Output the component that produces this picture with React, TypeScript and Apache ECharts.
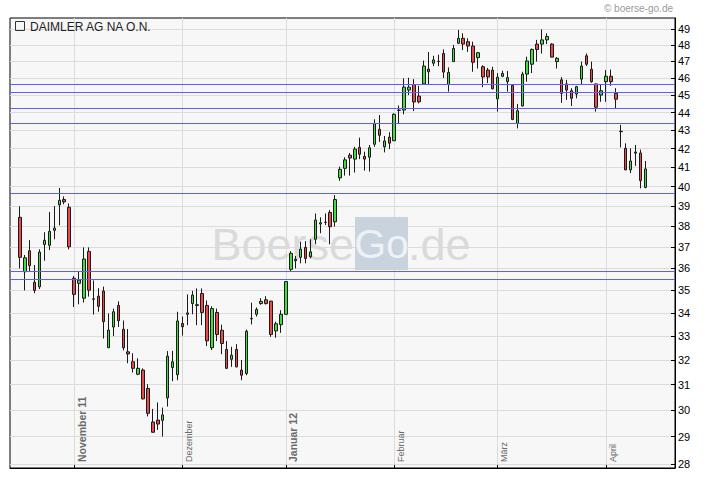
import React, { useEffect, useRef } from 'react';
import * as echarts from 'echarts';

// ---- data ----
const firstCategoryDate = '2011-10-13';
const firstCandleDate = '2011-10-17';
const categoryCount = 136;
const exchangeHolidays = ['2011-12-26', '2012-04-06', '2012-04-09'];

const open = [
  38.45, 35.85, 36.83, 35.37, 35.16, 37.13, 37.09, 37.81, 39.07, 39.34, 38.95,
  35.55, 35.32, 34.65, 36.8, 34.62, 34.74, 34.97, 32.51, 33.39, 34.33, 33.29, 32.34, 31.93, 31.42, 31.59, 30.85, 29.55, 29.62, 29.61, 30.48, 31.69, 31.4,
  33.54, 33.94, 34.41, 34.33, 34.86, 34.33, 32.51, 34.02, 33.25, 32.44, 32.03, 32.44, 31.59, 31.45, 33.74, 33.94, 34.41, 34.58, 34.52, 33.22, 33.49,
  33.94, 35.96, 36.36, 36.52, 36.99, 36.55, 37.38, 38.12, 38.2, 38.69, 38.23, 40.45, 40.95, 41.65, 41.44, 42.07, 41.59, 41.54, 42.24, 43.06, 42.1, 42.63,
  42.43, 44.12, 44.14, 45.29, 45.61, 44.94, 45.65, 46.53, 46.88, 46.98, 47.47, 45.61, 46.98, 48.1, 48.41, 48.2, 47.93, 47.22, 46.67, 46.47, 46.47,
  44.78, 46.1, 45.78, 45.56, 43.38, 44.37, 46.23, 46.82, 48.05, 48.05, 48.31, 48.05, 46.98, 45.89, 45.65, 45.25, 45.06, 45.93, 47.33, 46.52, 45.65, 45.0,
  45.78, 46.1, 45.1, 42.95, 42.02, 40.87, 41.82, 41.77, 39.96,
];
const high = [
  39.0, 36.63, 37.34, 36.16, 36.9, 37.72, 38.71, 39.01, 39.93, 39.5, 39.14,
  35.65, 35.87, 36.99, 36.99, 35.45, 35.1, 35.17, 33.98, 34.19, 34.51, 33.67, 33.3, 32.28, 32.07, 31.66, 31.02, 30.05, 30.3, 30.1, 32.37, 32.38, 34.05,
  33.84, 34.82, 34.98, 35.09, 35.09, 34.55, 34.29, 34.19, 33.49, 32.79, 32.55, 32.66, 32.0, 33.28, 34.45, 34.24, 34.65, 34.74, 34.53, 33.62, 34.12,
  35.42, 36.81, 36.58, 37.26, 37.29, 37.38, 38.64, 38.45, 38.64, 38.81, 39.56, 41.04, 41.54, 41.77, 42.1, 42.6, 41.84, 42.2, 43.62, 43.86, 42.69, 42.9,
  43.96, 44.4, 45.98, 46.01, 45.93, 45.54, 47.04, 47.56, 47.33, 47.4, 47.72, 46.63, 48.0, 48.93, 48.72, 48.41, 48.2, 47.57, 46.76, 46.6, 46.67,
  46.29, 46.43, 46.41, 45.61, 44.49, 46.37, 47.28, 47.78, 48.31, 48.97, 48.72, 48.1, 47.25, 46.05, 45.89, 45.4, 45.54, 46.98, 47.47, 46.98, 45.66, 45.61,
  46.47, 46.5, 45.4, 43.31, 42.29, 42.02, 42.2, 41.95, 41.34,
];
const low = [
  36.0, 35.0, 35.85, 34.87, 35.06, 36.36, 36.86, 37.38, 38.06, 39.1, 36.9,
  34.26, 34.38, 34.46, 34.72, 33.93, 34.05, 32.9, 32.5, 33.0, 33.39, 32.4, 31.87, 31.49, 31.38, 30.42, 29.76, 29.15, 29.25, 29.0, 30.14, 31.14, 31.18,
  33.02, 33.47, 33.94, 33.47, 33.47, 32.58, 32.41, 32.79, 32.24, 31.64, 31.72, 31.7, 31.18, 31.38, 33.5, 33.84, 34.36, 34.37, 32.97, 32.93, 33.14,
  33.93, 35.85, 36.0, 36.24, 36.24, 36.47, 37.14, 37.67, 38.07, 37.14, 37.99, 40.3, 40.57, 40.57, 40.73, 41.44, 40.83, 40.78, 42.1, 42.37, 41.8, 41.98,
  42.42, 43.35, 43.9, 45.0, 44.08, 44.52, 45.62, 45.61, 46.71, 46.7, 46.0, 45.2, 46.97, 48.05, 47.68, 47.57, 46.37, 46.56, 45.46, 45.7, 45.34,
  44.05, 46.05, 45.2, 43.57, 43.11, 44.35, 45.78, 46.29, 46.98, 47.47, 48.05, 47.24, 46.56, 44.55, 44.72, 44.37, 44.81, 45.61, 46.71, 45.72, 44.05, 44.61,
  44.61, 45.54, 44.24, 42.07, 40.86, 40.7, 41.08, 39.91, 39.91,
];
const close = [
  36.52, 36.5, 36.13, 35.0, 36.77, 37.33, 37.76, 37.92, 39.3, 39.22, 37.02,
  34.82, 35.47, 36.44, 35.01, 34.6, 34.29, 33.62, 33.26, 34.05, 33.66, 32.51, 32.25, 31.66, 31.66, 30.44, 29.88, 29.16, 29.47, 29.82, 32.16, 31.93, 33.65,
  33.4, 34.0, 34.79, 34.36, 34.02, 32.8, 34.19, 33.07, 32.69, 31.66, 32.2, 31.72, 31.38, 33.21, 33.76, 34.15, 34.51, 34.41, 33.07, 33.53, 33.94,
  35.4, 36.71, 36.43, 36.91, 36.47, 36.78, 38.32, 38.18, 38.21, 37.99, 39.34, 40.9, 41.4, 41.5, 41.98, 41.7, 41.44, 42.05, 43.37, 42.73, 42.42, 42.3,
  43.9, 44.14, 45.46, 45.46, 44.6, 44.61, 46.71, 46.37, 47.08, 47.0, 46.35, 46.33, 47.78, 48.41, 48.05, 47.93, 46.94, 47.52, 46.06, 46.06, 45.36,
  46.05, 46.27, 46.02, 43.61, 44.1, 46.23, 47.02, 47.72, 47.72, 48.31, 48.52, 47.25, 47.18, 45.1, 45.29, 44.81, 45.49, 46.71, 46.82, 45.78, 44.3, 45.25,
  46.1, 45.78, 44.76, 42.93, 40.87, 41.34, 41.76, 40.31, 40.92,
];

const yTicks = [28, 29, 30, 31, 32, 33, 34, 35, 36, 37, 38, 39, 40, 41, 42, 43, 44, 45, 46, 47, 48, 49];
const yMin = 27.85;
const yMax = 49.69;
const supportLines = [45.68, 45.33, 44.18, 43.28, 39.59, 35.82, 35.42];
const monthKeys = ['2011-11', '2011-12', '2012-01', '2012-02', '2012-03', '2012-04'];
const monthLabels = ['November 11', 'Dezember', 'Januar 12', 'Februar', 'März', 'April'];
const yearStart = [true, false, true, false, false, false];
const titleText = 'DAIMLER AG NA O.N.';
const copyrightText = '© boerse-go.de';

// ---- helpers ----
function buildTradingDays(start: string, count: number): string[] {
  const out: string[] = [];
  const d = new Date(start + 'T12:00:00Z');
  while (out.length < count) {
    const wd = d.getUTCDay();
    const s = d.toISOString().slice(0, 10);
    if (wd !== 0 && wd !== 6 && !exchangeHolidays.includes(s)) out.push(s);
    d.setUTCDate(d.getUTCDate() + 1);
  }
  return out;
}

const categories = buildTradingDays(firstCategoryDate, categoryCount);
const candleOffset = categories.indexOf(firstCandleDate);
const monthCats = monthKeys.map((k) => categories.findIndex((c) => c.startsWith(k)));
const monthCatSet = new Set(monthCats);

const FONT = 'Arial, "Liberation Sans", Helvetica, sans-serif';

export default function App() {
  const ref = useRef<HTMLDivElement>(null);

  useEffect(() => {
    if (!ref.current) return;
    const chart = echarts.init(ref.current, null, { renderer: 'svg' });

    const candleData = open.map((o, i) => [
      candleOffset + i,
      Math.log(o),
      Math.log(close[i]),
      Math.log(low[i]),
      Math.log(high[i]),
    ]);

    const logTicks = yTicks.map((t) => Math.log(t));

    const option: any = {
      animation: false,
      backgroundColor: '#ffffff',
      grid: {
        left: 10,
        right: 45,
        top: 18,
        bottom: 13,
        show: true,
        backgroundColor: '#f7f7f7',
        borderColor: '#000000',
        borderWidth: 1,
      },
      xAxis: {
        type: 'category',
        data: categories,
        boundaryGap: false,
        axisLine: { show: true, lineStyle: { color: '#000000', width: 1 } },
        axisTick: {
          show: true,
          inside: true,
          length: 3,
          interval: (idx: number) => monthCatSet.has(idx),
          lineStyle: { color: '#000000' },
        },
        axisLabel: { show: false },
        splitLine: {
          show: true,
          interval: (idx: number) => monthCatSet.has(idx),
          lineStyle: { color: '#dcdcdc', width: 1 },
        },
      },
      yAxis: {
        type: 'value',
        position: 'right',
        min: Math.log(yMin),
        max: Math.log(yMax),
        scale: true,
        axisLine: { show: true, lineStyle: { color: '#000000', width: 1 } },
        axisTick: {
          show: true,
          inside: true,
          length: 4,
          customValues: logTicks,
          lineStyle: { color: '#000000' },
        },
        axisLabel: {
          show: true,
          customValues: logTicks,
          formatter: (v: number) => String(Math.round(Math.exp(v))),
          color: '#000000',
          fontSize: 11,
          fontFamily: FONT,
          margin: 3,
        },
        splitLine: { show: true, lineStyle: { color: '#dcdcdc', width: 1 } },
      },
      graphic: [
        {
          type: 'text',
          z: 1,
          silent: true,
          style: {
            text: 'Boerse',
            x: 354,
            y: 244,
            textAlign: 'right',
            textVerticalAlign: 'middle',
            fontSize: 45,
            fontFamily: FONT,
            fill: '#dadada',
          },
        },
        {
          type: 'rect',
          z: 1,
          silent: true,
          shape: { x: 355, y: 217, width: 53, height: 53 },
          style: { fill: '#c9d3dd' },
        },
        {
          type: 'text',
          z: 1,
          silent: true,
          style: {
            text: 'Go',
            x: 381.5,
            y: 244,
            textAlign: 'center',
            textVerticalAlign: 'middle',
            fontSize: 41,
            fontFamily: FONT,
            fill: '#eef1f5',
          },
        },
        {
          type: 'text',
          z: 1,
          silent: true,
          style: {
            text: '.de',
            x: 408,
            y: 244,
            textAlign: 'left',
            textVerticalAlign: 'middle',
            fontSize: 45,
            fontFamily: FONT,
            fill: '#dadada',
          },
        },
        {
          type: 'rect',
          z: 5,
          silent: true,
          shape: { x: 15.5, y: 21.5, width: 9, height: 9 },
          style: { fill: 'none', stroke: '#333333', lineWidth: 1 },
        },
        {
          type: 'text',
          z: 5,
          silent: true,
          style: {
            text: titleText,
            x: 30,
            y: 26.5,
            textAlign: 'left',
            textVerticalAlign: 'middle',
            fontSize: 12,
            fontFamily: FONT,
            fill: '#222222',
          },
        },
        {
          type: 'text',
          z: 5,
          silent: true,
          style: {
            text: copyrightText,
            x: 673,
            y: 8,
            textAlign: 'right',
            textVerticalAlign: 'middle',
            fontSize: 10,
            fontFamily: FONT,
            fill: '#9a9a9a',
          },
        },
      ],
      series: [
        {
          type: 'candlestick',
          data: candleData,
          encode: { x: 0, y: [1, 2, 3, 4] },
          barWidth: 3,
          itemStyle: {
            color: '#3ee03e',
            color0: '#ec4a4a',
            borderColor: '#1a1a1a',
            borderColor0: '#1a1a1a',
            borderColorDoji: '#1a1a1a',
            borderWidth: 1,
          },
          markLine: {
            silent: true,
            animation: false,
            symbol: ['none', 'none'],
            lineStyle: { type: 'solid', width: 1, color: '#5e5eff' },
            label: { show: false },
            emphasis: { disabled: true },
            data: [
              ...supportLines.map((v) => ({ yAxis: Math.log(v) })),
              ...monthLabels.map((name, k) => ({
                name,
                xAxis: monthCats[k],
                lineStyle: { color: 'rgba(0,0,0,0)', width: 0 },
                label: {
                  show: true,
                  formatter: name,
                  position: 'insideStartBottom',
                  distance: [6, 2],
                  fontSize: yearStart[k] ? 10.5 : 9,
                  fontWeight: yearStart[k] ? 'bold' : 'normal',
                  fontFamily: FONT,
                  color: '#6a6a6a',
                },
              })),
            ],
          },
        },
      ],
    };

    chart.setOption(option);
    return () => {
      chart.dispose();
    };
  }, []);

  return (
    <div
      ref={ref}
      style={{ position: 'absolute', left: 0, top: 0, width: 720, height: 481 }}
    />
  );
}
